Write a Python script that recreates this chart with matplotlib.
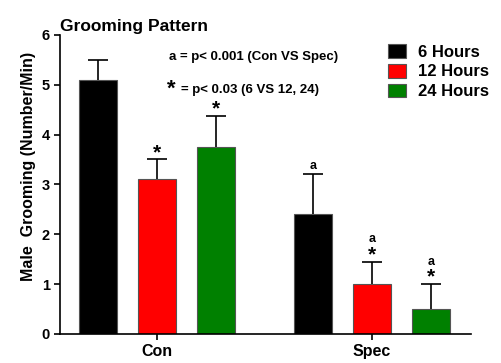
import matplotlib
matplotlib.use('Agg')
import matplotlib.pyplot as plt
import numpy as np

plt.rcParams['font.family'] = 'Liberation Sans'
plt.rcParams['font.weight'] = 'bold'
plt.rcParams['axes.titleweight'] = 'bold'
plt.rcParams['axes.labelweight'] = 'bold'

groups = ['Con', 'Spec']
series = ['6 Hours', '12 Hours', '24 Hours']
colors = ['#000000', '#ff0000', '#008000']
means = {'6 Hours': [5.1, 2.4], '12 Hours': [3.1, 1.0], '24 Hours': [3.75, 0.5]}
errs = {'6 Hours': [0.4, 0.8], '12 Hours': [0.4, 0.45], '24 Hours': [0.63, 0.5]}
# significance marks above each bar: (group index, series) -> text
marks = {(0, '12 Hours'): '*', (0, '24 Hours'): '*',
         (1, '6 Hours'): 'a', (1, '12 Hours'): 'a\n*', (1, '24 Hours'): 'a\n*'}

fig = plt.figure(figsize=(5.01, 3.63), dpi=100)
ax = fig.add_axes([0.12, 0.08, 0.82, 0.824])

x = np.arange(len(groups))
off = 0.274
w = 0.177
for i, s in enumerate(series):
    xs = x + (i - 1) * off
    ax.bar(xs, means[s], w, color=colors[i], edgecolor='#555555', linewidth=0.8,
           label=s, zorder=2)
    eb = ax.errorbar(xs, means[s], yerr=[[0, 0], errs[s]], fmt='none', ecolor='black',
                     elinewidth=1.2, capsize=7, capthick=1.2, zorder=3)
    eb[1][0].set_visible(False)  # only the upper cap
    for g in range(len(groups)):
        t = marks.get((g, s))
        if t is None:
            continue
        top = means[s][g] + errs[s][g]
        if t == '*':
            ax.text(xs[g], top - 0.05, '*', ha='center', va='bottom', fontsize=15)
        elif t == 'a':
            ax.text(xs[g], top + 0.05, 'a', ha='center', va='bottom', fontsize=9)
        else:
            ax.text(xs[g], top - 0.05, '*', ha='center', va='bottom', fontsize=15)
            ax.text(xs[g], top + 0.33, 'a', ha='center', va='bottom', fontsize=9)

ax.set_xlim(-0.451, 1.46)
ax.set_ylim(0, 6)
ax.set_yticks(range(0, 7))
ax.set_xticks(x)
ax.set_xticklabels(groups, fontsize=11.5)
ax.tick_params(axis='y', labelsize=10.5, width=1.2, length=4)
ax.tick_params(axis='x', width=1.2, length=4)
for sp in ['top', 'right']:
    ax.spines[sp].set_visible(False)
for sp in ['left', 'bottom']:
    ax.spines[sp].set_linewidth(1.2)
ax.set_ylabel('Male  Grooming (Number/Min)', fontsize=11.5, y=0.56)
ax.set_title('Grooming Pattern', fontsize=12.5, loc='left', x=0.0, y=1.0, pad=3)

ax.text(0.265, 0.915, 'a = p< 0.001 (Con VS Spec)', transform=ax.transAxes, fontsize=9.5)
ax.text(0.26, 0.80, '*', transform=ax.transAxes, fontsize=16)
ax.text(0.295, 0.805, '= p< 0.03 (6 VS 12, 24)', transform=ax.transAxes, fontsize=9.5)

ax.legend(loc='upper right', bbox_to_anchor=(1.08, 1.02), frameon=False, fontsize=12,
          handlelength=1.1, handleheight=0.9, handletextpad=0.7, labelspacing=0.25)

fig.savefig('out.png', dpi=100)
